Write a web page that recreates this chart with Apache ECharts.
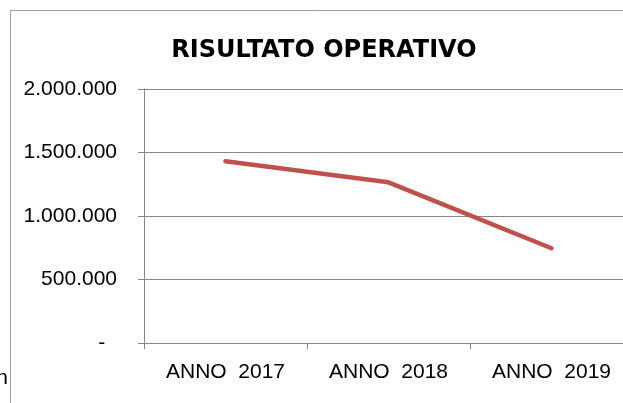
<!DOCTYPE html>
<html>
<head>
<meta charset="utf-8">
<script src="https://cdn.jsdelivr.net/npm/echarts@6/dist/echarts.min.js"></script>
<style>
    html, body { margin: 0; padding: 0; background: #fff; }
    #chart { width: 623px; height: 403px; }
</style>
</head>
<body>
<div id="chart"></div>
<script>
var anni = ['ANNO  2017', 'ANNO  2018', 'ANNO  2019'];
var risultato = [1431000, 1265000, 746000];
var yTicks = [0, 500000, 1000000, 1500000, 2000000];

function migliaia(v) {
    if (v === 0) return '-  ';
    return String(v).replace(/\B(?=(\d{3})+(?!\d))/g, '.');
}

var option = {
    animation: false,
    title: {
        text: 'RISULTATO OPERATIVO',
        left: 319,
        top: 34,
        textAlign: 'center',
        textStyle: {
            fontFamily: 'DejaVu Sans',
            fontWeight: 'bold',
            fontSize: 24,
            color: '#000'
        }
    },
    grid: {
        left: 144,
        top: 89,
        height: 254,
        width: 489,
        containLabel: false,
        outerBoundsMode: 'none'
    },
    xAxis: {
        type: 'category',
        data: anni,
        boundaryGap: true,
        axisLine: {lineStyle: {color: '#868686', width: 1}},
        axisTick: {show: true, length: 6, interval: 0, lineStyle: {color: '#868686'}},
        splitLine: {show: false},
        axisLabel: {
            margin: 19,
            fontFamily: 'Liberation Sans',
            fontSize: 21,
            color: '#000'
        }
    },
    yAxis: {
        type: 'value',
        min: yTicks[0],
        max: yTicks[yTicks.length - 1],
        interval: 500000,
        axisLine: {show: true, lineStyle: {color: '#868686', width: 1}},
        axisTick: {show: true, length: 6, lineStyle: {color: '#868686'}},
        splitLine: {show: true, lineStyle: {color: '#868686', width: 1}},
        axisLabel: {
            margin: 27,
            formatter: migliaia,
            fontFamily: 'Liberation Sans',
            fontSize: 21,
            color: '#000'
        }
    },
    series: [
        {
            type: 'line',
            data: risultato,
            symbol: 'none',
            lineStyle: {color: '#C0504D', width: 4.5, cap: 'round', join: 'round'}
        }
    ],
    graphic: [
        {
            type: 'polyline',
            shape: {points: [[10.5, 403], [10.5, 10.5], [623, 10.5]]},
            style: {fill: 'none', stroke: '#a0a0a0', lineWidth: 1}
        },
        {
            type: 'text',
            x: 8,
            y: 378,
            style: {text: 'n', textAlign: 'right', textVerticalAlign: 'middle', font: '21px "Liberation Sans"', fill: '#000'}
        }
    ]
};

var chart = echarts.init(document.getElementById('chart'));
chart.setOption(option);
</script>
</body>
</html>
